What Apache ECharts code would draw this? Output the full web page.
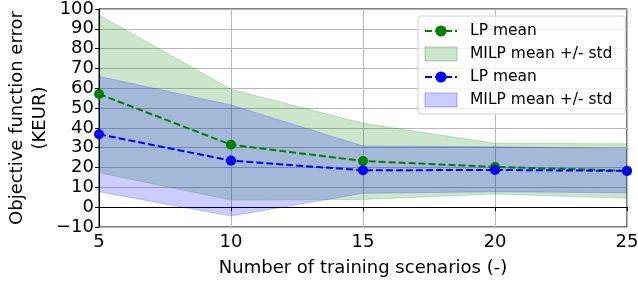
<!DOCTYPE html>
<html>
<head>
    <meta charset="UTF-8">
    <script src="https://cdn.jsdelivr.net/npm/echarts@6/dist/echarts.min.js"></script>
    <style>
        html, body { margin: 0; padding: 0; background: #fff; }
        #chart { width: 638px; height: 282px; }
    </style>
</head>
<body>
    <div id="chart"></div>
<script>
    // training scenarios on the x axis
    const scenarios = ['5', '10', '15', '20', '25'];
    const yTicks = [-10, 100, 10]; // min, max, step

    // green group
    const lpMeanA = [57.1, 31.5, 23.3, 20.3, 18.4];
    const milpLowA = [17.4, 3.6, 3.9, 6.6, 4.5];
    const milpHighA = [97.0, 59.5, 42.3, 32.2, 32.0];

    // blue group
    const lpMeanB = [36.8, 23.5, 18.6, 18.8, 18.3];
    const milpLowB = [7.8, -4.5, 7.0, 7.8, 7.3];
    const milpHighB = [66.0, 51.6, 30.9, 30.5, 29.4];

    const font = 'DejaVu Sans';
    const green = '#008000', blue = '#0000ff';
    const greenFill = 'rgba(0,128,0,0.2)', blueFill = 'rgba(0,0,255,0.2)';

    // band thickness for the stacked area
    const spread = (lo, hi) => lo.map((v, i) => hi[i] - v);

    function band(stackId, lo, hi, name, fill) {
        return [{
            type: 'line', stack: stackId, stackStrategy: 'all',
            data: lo, showSymbol: false, silent: true,
            lineStyle: { color: fill, width: 1 }
        }, {
            name: name, type: 'line', stack: stackId, stackStrategy: 'all',
            data: spread(lo, hi), showSymbol: false, silent: true,
            color: fill,
            lineStyle: { color: fill, width: 1 },
            areaStyle: { color: fill, opacity: 1 }
        }];
    }

    function meanLine(name, ys, col) {
        return {
            name: name, type: 'line', data: ys,
            color: col, symbol: 'circle', symbolSize: 10,
            lineStyle: { color: col, width: 2, type: [7, 3] },
            itemStyle: { color: col }
        };
    }

    var chart = echarts.init(document.getElementById('chart'), null, { renderer: 'canvas' });

    var option = {
        animation: false,
        textStyle: { fontFamily: font, color: '#000' },
        grid: {
            left: 99, right: 11, top: 9, bottom: 55,
            containLabel: false, outerBoundsMode: 'none',
            show: true, borderColor: '#000', borderWidth: 1
        },
        legend: {
            orient: 'vertical', left: 418, top: 16,
            padding: [7, 8, 6, 6], itemGap: 7,
            itemWidth: 32, itemHeight: 14,
            backgroundColor: 'rgba(255,255,255,0.8)',
            borderColor: '#d0d0d0', borderWidth: 1, borderRadius: 3,
            textStyle: { fontFamily: font, fontSize: 15.5, color: '#000', padding: [0, 0, 0, 8] },
            data: [
                { name: 'LP mean' },
                { name: 'MILP mean +/- std', icon: 'rect',
                  itemStyle: { color: greenFill, borderColor: 'rgba(0,128,0,0.3)', borderWidth: 1 } },
                { name: 'LP mean ' },
                { name: 'MILP mean +/- std ', icon: 'rect',
                  itemStyle: { color: blueFill, borderColor: 'rgba(0,0,255,0.3)', borderWidth: 1 } }
            ]
        },
        xAxis: {
            type: 'category', data: scenarios, boundaryGap: false,
            name: 'Number of training scenarios (-)',
            nameLocation: 'middle', nameGap: 32, nameMoveOverlap: false,
            nameTextStyle: { fontFamily: font, fontSize: 18, color: '#000' },
            axisLine: { lineStyle: { color: '#000' } },
            axisTick: { show: true, length: 4, lineStyle: { color: '#000' } },
            axisLabel: { fontFamily: font, fontSize: 18, color: '#000', margin: 6 },
            splitLine: { show: true, lineStyle: { color: '#b8b8b8', width: 1 } }
        },
        yAxis: {
            type: 'value', min: yTicks[0], max: yTicks[1], interval: yTicks[2],
            name: 'Objective function error\n(KEUR)',
            nameLocation: 'middle', nameGap: 47, nameMoveOverlap: false,
            nameTextStyle: { fontFamily: font, fontSize: 18, color: '#000', lineHeight: 23 },
            axisLine: { show: true, lineStyle: { color: '#000' } },
            axisTick: { show: true, length: 4, lineStyle: { color: '#000' } },
            axisLabel: {
                fontFamily: font, fontSize: 18, color: '#000', margin: 5,
                formatter: (v) => String(v).replace('-', '\u2212')
            },
            splitLine: { show: true, lineStyle: { color: '#b8b8b8', width: 1 } }
        },
        series: [].concat(
            band('bandA', milpLowA, milpHighA, 'MILP mean +/- std', greenFill),
            band('bandB', milpLowB, milpHighB, 'MILP mean +/- std ', blueFill),
            [meanLine('LP mean', lpMeanA, green), meanLine('LP mean ', lpMeanB, blue)]
        )
    };

    chart.setOption(option);
</script>
</body>
</html>
